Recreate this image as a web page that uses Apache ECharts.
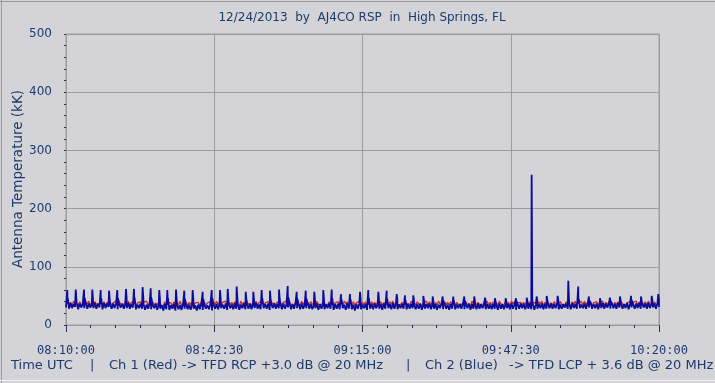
<!DOCTYPE html>
<html><head><meta charset="utf-8">
<script src="https://cdn.jsdelivr.net/npm/echarts@6/dist/echarts.min.js"></script>
<style>html,body{margin:0;padding:0;background:#d4d3d8;}#c{width:715px;height:383px;}</style>
</head><body><div id="c"></div>
<script>
// ---------------- data ----------------
const titleText = '12/24/2013  by  AJ4CO RSP  in  High Springs, FL';
const yAxisTitle = 'Antenna Temperature (kK)';
const footerParts = ['Time UTC', '|', 'Ch 1 (Red) -> TFD RCP +3.0 dB @ 20 MHz', '|', 'Ch 2 (Blue)', '-> TFD LCP + 3.6 dB @ 20 MHz'];
const xTickLabels = ['08:10:00', '08:42:30', '09:15:00', '09:47:30', '10:20:00'];
const xTickStep = 1950;      // seconds between labelled ticks (32.5 min)
const xSpan = 7800;          // seconds covered (08:10:00 -> 10:20:00)
const yTicks = [0, 100, 200, 300, 400, 500];
const sampleStep = 20;       // seconds between samples of the base traces

// Ch 1 (red), kK, one value per sample
const redValues = [
34,40,35,39,33,41,36,39,34,40,35,38,33,40,36,41,34,39,35,40,
36,39,34,41,35,40,33,39,36,40,34,38,35,41,33,40,36,39,34,40,
35,41,34,39,36,40,33,38,35,40,34,39,36,41,33,39,35,40,34,38,
34,39,35,38,33,40,34,39,36,38,33,40,35,39,34,41,33,38,35,39,
33,39,35,40,34,38,36,39,33,40,35,39,34,38,36,40,33,39,35,41,
35,40,34,39,36,41,33,40,35,39,34,40,36,38,33,41,35,39,34,40,
36,39,34,40,35,41,33,39,36,40,34,38,35,40,33,41,36,39,34,40,
35,40,33,39,36,41,34,40,35,38,33,40,36,39,34,41,35,40,33,39,
34,40,36,39,33,41,35,38,34,40,36,39,33,40,35,41,34,38,36,40,
35,39,34,41,36,40,33,39,35,40,34,38,36,41,33,39,35,40,34,39,
34,40,35,39,33,41,36,40,34,38,35,39,33,40,36,41,34,39,35,38,
35,39,34,40,36,38,33,41,35,39,34,40,36,39,33,38,35,41,34,40,
33,40,35,39,34,41,36,38,33,40,35,39,34,40,36,41,33,39,35,38,
36,39,34,40,35,38,33,41,36,40,34,39,35,38,33,40,36,41,34,39,
34,40,35,39,33,41,36,38,34,40,35,39,33,41,36,40,34,38,35,39,
35,39,34,41,36,40,33,38,35,39,34,40,36,41,33,39,35,40,34,38,
34,40,36,39,33,41,35,38,34,40,36,39,33,40,35,41,34,39,36,40,
35,41,34,39,36,40,33,38,35,40,34,39,36,41,33,39,35,40,34,38,
34,39,35,40,33,41,36,39,34,38,35,40,33,39,36,41,34,40,35,39,
35,40,34,41,36,39,33,40,35,38,36
];

// Ch 2 (blue) base trace, kK, one value per sample
const blueValues = [
30,37,28,38,29,36,31,38,27,37,30,36,29,38,28,37,30,35,29,38,
28,37,30,36,27,38,29,37,31,36,28,37,29,38,27,36,30,37,28,36,
29,38,28,36,30,37,27,35,29,37,28,36,26,35,28,36,27,34,29,36,
26,35,28,34,25,36,27,35,26,34,28,36,25,35,27,34,26,36,28,35,
27,35,26,36,28,34,25,35,27,36,26,35,28,34,27,36,25,35,28,36,
27,36,29,35,28,37,26,36,29,35,27,37,28,36,26,35,29,37,27,36,
28,37,27,36,29,38,28,35,27,37,29,36,28,37,26,36,29,38,28,36,
29,36,27,37,28,35,30,37,27,36,28,38,29,36,27,37,28,35,29,37,
28,36,27,35,29,37,26,36,28,35,27,36,29,37,28,35,26,36,28,37,
27,36,29,35,26,37,28,36,27,35,25,36,28,37,27,35,29,36,26,35,
28,36,27,37,29,35,28,36,26,37,28,35,29,36,27,38,28,36,27,35,
29,36,28,35,27,37,28,36,29,35,27,36,28,37,26,35,28,36,29,37,
27,35,28,36,26,35,29,37,27,36,28,35,26,36,28,37,27,35,29,36,
28,36,27,35,29,37,26,36,28,35,27,37,28,36,29,35,27,36,28,35,
27,36,28,35,26,37,28,36,27,35,29,36,27,37,28,35,26,36,28,37,
29,36,27,35,28,37,27,36,26,35,28,36,29,37,27,36,28,35,29,37,
28,36,29,37,27,35,28,36,30,37,28,36,27,38,29,36,28,37,29,35,
29,37,28,36,30,38,28,36,29,37,27,36,29,38,28,37,30,36,28,37,
29,36,28,38,30,37,28,36,29,38,27,37,30,36,28,37,29,38,28,36,
30,37,28,38,29,36,30,37,28,38,31
];

// Ch 2 (blue) spikes: [seconds after 08:10:00, peak kK, value just after the peak kK]
const blueSpikes = [
[17,60,46],[128,61,46],[237,61,47],[346,61,46],[456,60,46],[566,59,45],[675,60,46],[789,62,47],[894,62,47],[1008,65,48],
[1114,63,47],[1227,60,46],[1333,60,46],[1447,61,46],[1556,59,45],[1666,60,46],[1798,57,45],[1917,60,46],[2026,60,46],[2127,62,47],
[2245,66,48],[2364,57,45],[2464,57,45],[2574,60,46],[2683,59,45],[2802,61,46],[2916,67,48],[3034,57,45],[3153,59,45],[3266,57,45],
[3384,60,46],[3495,61,46],[3617,53,44],[3735,53,44],[3867,57,45],[3976,60,46],[4108,57,45],[4218,59,45],[4350,53,44],[4459,51,43],
[4568,51,43],[4700,50,43],[4823,49,42],[4955,49,42],[5094,49,42],[5239,49,42],[5370,49,42],[5511,47,42],[5642,46,41],[5783,46,41],
[5919,46,41],[6060,47,42],[6125,258,44],[6191,49,42],[6323,50,43],[6467,50,43],[6607,76,46],[6738,66,45],[6879,49,42],[7024,46,41],
[7155,47,42],[7287,49,42],[7432,50,43],[7563,49,42],[7704,50,43],[7791,53,44]
];

// ---------------- build series ----------------
const tailOffset = 8; // seconds between a spike's peak and its decaying tail sample
const redData = redValues.map((v, i) => [i * sampleStep, v]);
const blueData = blueValues.map((v, i) => [i * sampleStep, v])
  .concat(blueSpikes.map(s => [s[0], s[1]]))
  .concat(blueSpikes.map(s => [Math.min(s[0] + tailOffset, xSpan), s[2]]))
  .sort((a, b) => a[0] - b[0]);

const navy = '#1d3a6c';
const chart = echarts.init(document.getElementById('c'), null, {renderer: 'canvas'});

const footerX = [11, 90, 109, 406, 425, 509];

chart.setOption({
  animation: false,
  backgroundColor: '#d4d3d8',
  grid: {left: 66, top: 34, width: 593, height: 291, show: true, borderColor: '#9c9c9c', borderWidth: 1,
         backgroundColor: 'transparent', containLabel: false, outerBoundsMode: 'none'},
  xAxis: {
    type: 'value', min: 0, max: xSpan, interval: xTickStep, offset: 4,
    axisLine: {show: false},
    axisTick: {show: true, length: 7, lineStyle: {color: '#2a3050', width: 1}},
    minorTick: {show: true, splitNumber: 6, length: 3, lineStyle: {color: '#2a3050', width: 1}},
    axisLabel: {
      show: true, margin: 16, color: navy, fontFamily: 'DejaVu Sans Mono', fontSize: 12,
      showMinLabel: true, showMaxLabel: true,
      formatter: v => xTickLabels[Math.round(v / xTickStep)] || ''
    },
    splitLine: {show: true, lineStyle: {color: '#9c9c9c', width: 1}}
  },
  yAxis: {
    type: 'value', min: yTicks[0], max: yTicks[yTicks.length - 1], interval: yTicks[1] - yTicks[0], offset: 6,
    axisLine: {show: false},
    axisTick: {show: true, length: 2, lineStyle: {color: '#2a3050', width: 1}},
    minorTick: {show: true, splitNumber: 5, length: 2, lineStyle: {color: '#2a3050', width: 1}},
    axisLabel: {margin: 8, color: navy, fontFamily: 'DejaVu Sans', fontSize: 12, formatter: v => String(yTicks[Math.round(v / (yTicks[1] - yTicks[0]))])},
    splitLine: {show: true, lineStyle: {color: '#9c9c9c', width: 1}}
  },
  series: [
    {type: 'line', name: 'Ch 1', data: redData, showSymbol: false, symbol: 'none', sampling: null,
     lineStyle: {color: '#c82a2a', width: 1.3}, z: 2},
    {type: 'line', name: 'Ch 2', data: blueData, showSymbol: false, symbol: 'none', sampling: null,
     lineStyle: {color: '#0b0b9e', width: 1.8}, z: 3}
  ],
  graphic: [
    {type: 'text', x: 362, y: 18, style: {text: titleText, fill: navy, font: '12px "DejaVu Sans"', textAlign: 'center', textVerticalAlign: 'middle'}},
    {type: 'text', x: 18, y: 179, rotation: Math.PI / 2, style: {text: yAxisTitle, fill: navy, font: '13.5px "DejaVu Sans"', textAlign: 'center', textVerticalAlign: 'middle'}},
    ...footerParts.map((t, i) => ({type: 'text', x: footerX[i], y: 366, style: {text: t, fill: navy, font: '13px "DejaVu Sans"', textAlign: 'left', textVerticalAlign: 'middle'}})),
    {type: 'line', shape: {x1: 0, y1: 1.5, x2: 715, y2: 1.5}, style: {stroke: '#9a9a9a', lineWidth: 1}},
    {type: 'line', shape: {x1: 1.5, y1: 0, x2: 1.5, y2: 383}, style: {stroke: '#9a9a9a', lineWidth: 1}},
    {type: 'line', shape: {x1: 0, y1: 380.5, x2: 715, y2: 380.5}, style: {stroke: '#f0f0f0', lineWidth: 1}}
  ]
});
</script>
</body></html>
